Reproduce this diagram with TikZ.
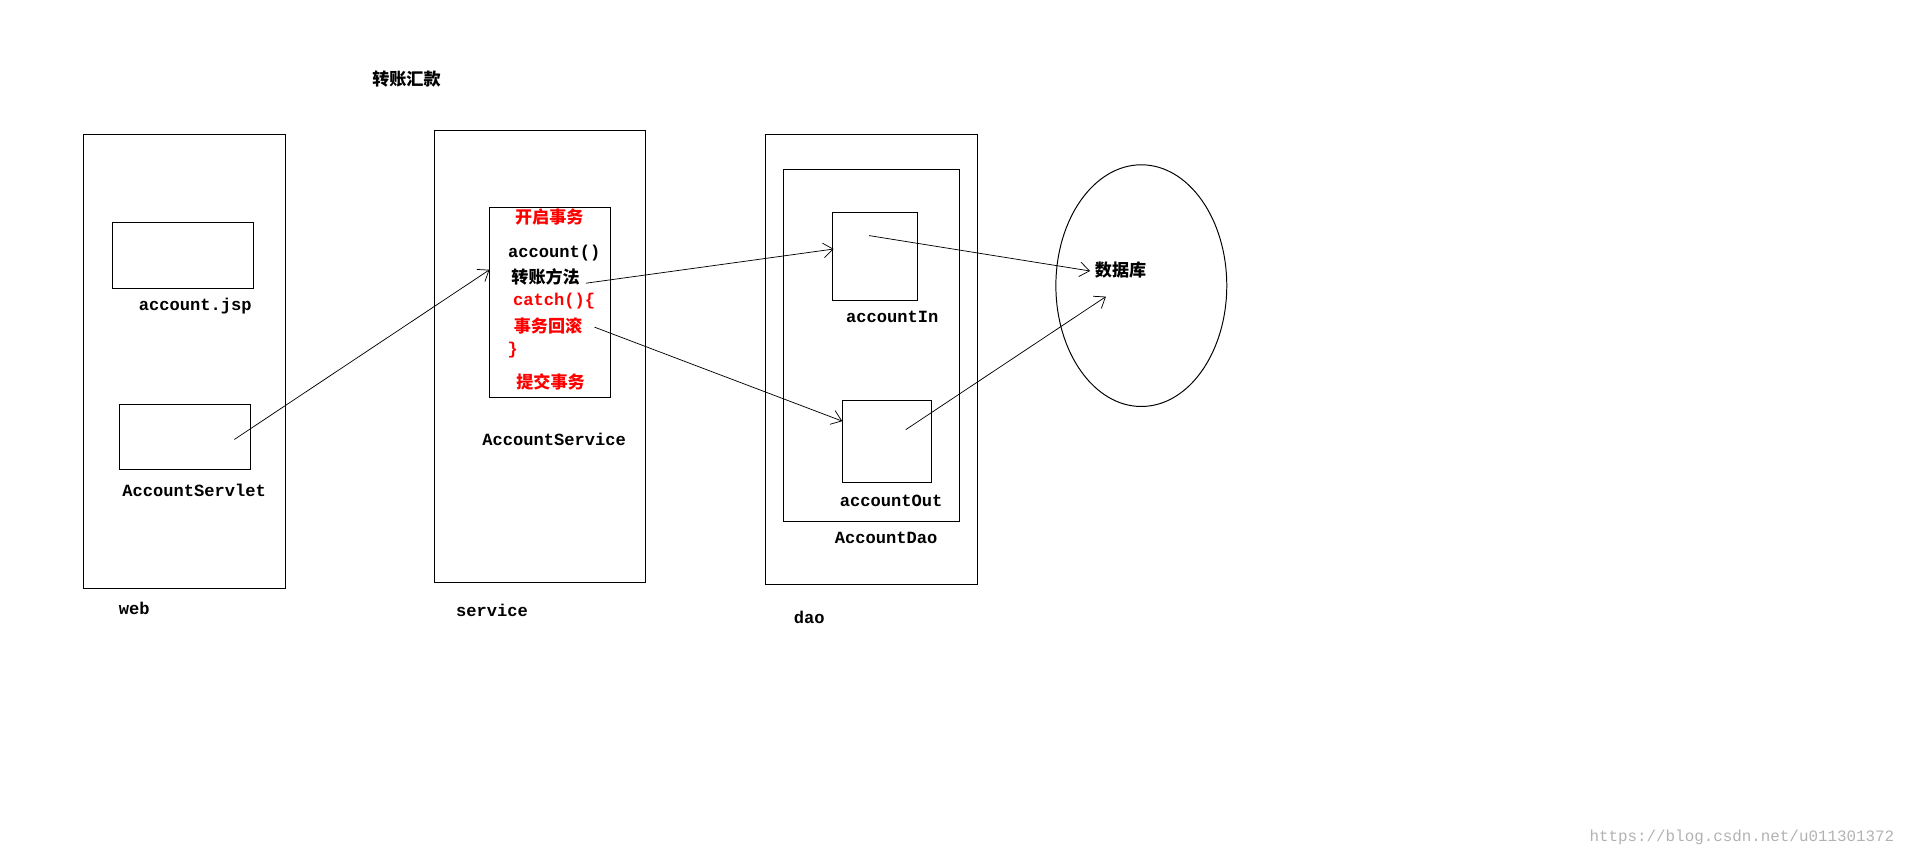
\documentclass[tikz,border=0pt]{standalone}
\usepackage{fontspec}
\usetikzlibrary{shapes.geometric,arrows.meta}
\setmainfont{Liberation Mono}
\newfontfamily\cjk{Noto Sans CJK SC}
\begin{document}
\begin{tikzpicture}[x=1pt,y=-1pt,
  box/.style={draw,line width=0.8pt},
  lab/.style={font=\fontsize{14}{16}\selectfont\bfseries},
  clab/.style={font=\fontsize{14}{16}\selectfont\cjk\bfseries},
  arr/.style={-{Straight Barb[length=8pt,width=12pt]},line width=0.6pt}]
\useasboundingbox (0,0) rectangle (1568,702);
\node[clab] (title) at (333,65) {转账汇款};
% web
\draw[box] (68,110) rectangle (234,482);
\node[box,minimum width=116pt,minimum height=54pt] (jsp) at (150,209) {};
\node[lab] (jspl) at (160,251) {account.jsp};
\node[box,minimum width=107pt,minimum height=54pt] (servlet) at (151.5,358) {};
\node[lab] (servl) at (159,402) {AccountServlet};
\node[lab] (web) at (110,498) {web};
% service
\draw[box] (356,107) rectangle (529,477);
\node[box,minimum width=99pt,minimum height=156pt] (svc) at (450.5,248) {};
\node[clab,red] at (450,178) {开启事务};
\node[lab] at (454,207) {account()};
\node[clab] at (447,227) {转账方法};
\node[lab,red] at (454,247) {catch()\{};
\node[clab,red] at (449,267) {事务回滚};
\node[lab,red] at (420,287) {\}};
\node[clab,red] at (451,313) {提交事务};
\node[lab] (svcl) at (454,360) {AccountService};
\node[lab] (service) at (403,500) {service};
% dao
\draw[box] (627,110) rectangle (801,479);
\draw[box] (642,139) rectangle (786,427);
\node[box,minimum width=70pt,minimum height=72pt] (in) at (717,210) {};
\node[lab] (inl) at (731,260) {accountIn};
\node[box,minimum width=73pt,minimum height=67pt] (out) at (726.5,361.5) {};
\node[lab] (outl) at (730,410) {accountOut};
\node[lab] (daol) at (726,441) {AccountDao};
\node[lab] (dao) at (663,506) {dao};
% db
\node[draw,line width=0.8pt,ellipse,minimum width=140pt,minimum height=198pt,inner sep=0pt] (db) at (935,234) {};
\node[clab] (dbl) at (918,221) {数据库};
\node[font=\fontsize{13}{15}\selectfont,gray!60] (wm) at (1427,686) {https://blog.csdn.net/u011301372};
% arrows
\coordinate (a1) at (192,360); \coordinate (b1) at (401,221);
\coordinate (a2) at (480,232); \coordinate (b2) at (683,204);
\coordinate (a3) at (487,268); \coordinate (b3) at (690,345);
\coordinate (a4) at (712,193); \coordinate (b4) at (893,222);
\coordinate (a5) at (742,352); \coordinate (b5) at (906,243);
\draw[arr] (a1) -- (b1);
\draw[arr] (a2) -- (b2);
\draw[arr] (a3) -- (b3);
\draw[arr] (a4) -- (b4);
\draw[arr] (a5) -- (b5);
\end{tikzpicture}
\end{document}
